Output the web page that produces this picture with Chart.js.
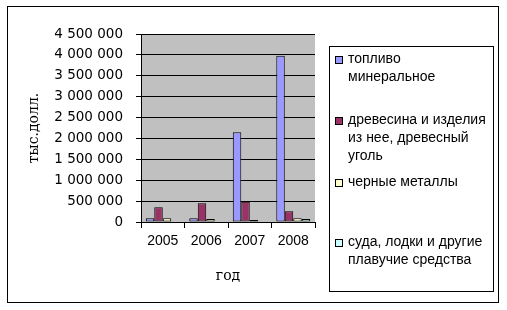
<!DOCTYPE html>
<html><head><meta charset="utf-8">
<script src="https://cdn.jsdelivr.net/npm/chart.js@4"></script>
<style>html,body{margin:0;padding:0;background:#fff}</style>
</head><body>
<canvas id="c" width="507" height="310"></canvas>
<script>
const years = ['2005', '2006', '2007', '2008'];
const seriesLines = [
  ['топливо', 'минеральное'],
  ['древесина и изделия', 'из нее, древесный', 'уголь'],
  ['черные металлы'],
  ['суда, лодки и другие', 'плавучие средства']
];
const fuel = [90000, 90000, 2150000, 3980000];
const wood = [355000, 450000, 485000, 260000];
const ferrous = [90000, 70000, 45000, 90000];
const vessels = [0, 0, 0, 70000];
const seriesColors = ['#9999FF', '#993366', '#FFFFCC', '#CCFFFF'];
const yMin = 0, yMax = 4500000, yStep = 500000;
const yTitle = 'тыс.долл.';
const xTitle = 'год';

const values = [fuel, wood, ferrous, vessels];
const fmt = v => String(v).replace(/\B(?=(\d{3})+(?!\d))/g, ' ');

const bgPlugin = {
  id: 'bg',
  beforeDraw(chart) {
    const {ctx, chartArea: a} = chart;
    ctx.save();
    ctx.fillStyle = '#C0C0C0';
    ctx.fillRect(a.left, a.top, a.right - a.left, a.bottom - a.top);
    ctx.restore();
  }
};

const legendStarts = [59, 120, 182, 242];
const framePlugin = {
  id: 'frame',
  afterDraw(chart) {
    const ctx = chart.ctx;
    ctx.save();
    ctx.strokeStyle = '#000';
    ctx.lineWidth = 1;
    ctx.strokeRect(7.5, 6.5, 491, 296);
    ctx.strokeRect(329.5, 46.5, 164, 245);
    ctx.font = '14px "Liberation Sans", Arial, sans-serif';
    ctx.textBaseline = 'middle';
    ctx.fillStyle = '#000';
    chart.data.datasets.forEach((ds, i) => {
      const y0 = legendStarts[i];
      ctx.fillStyle = ds.backgroundColor;
      ctx.fillRect(335, y0 - 3, 7, 7);
      ctx.strokeStyle = '#000';
      ctx.strokeRect(335.5, y0 - 2.5, 7, 7);
      ctx.fillStyle = '#000';
      seriesLines[i].forEach((line, j) => {
        ctx.fillText(line, 348, y0 + j * 18);
      });
    });
    ctx.restore();
  }
};

new Chart(document.getElementById('c'), {
  type: 'bar',
  data: {
    labels: years,
    datasets: values.map((v, i) => ({
      label: seriesLines[i].join(' '),
      data: v,
      backgroundColor: seriesColors[i],
      borderColor: '#000',
      borderWidth: 1,
      borderSkipped: false,
      categoryPercentage: 0.78,
      barPercentage: 1
    }))
  },
  options: {
    responsive: false,
    animation: false,
    devicePixelRatio: 1,
    layout: {padding: {top: 34, right: 192, bottom: 0, left: 0}},
    plugins: {legend: {display: false}, tooltip: {enabled: false}},
    scales: {
      x: {
        grid: {offset: true, drawOnChartArea: false, drawTicks: true, tickLength: 6, color: '#000'},
        border: {display: true, color: '#000', width: 1},
        ticks: {color: '#000', font: {family: '"Liberation Sans", Arial, sans-serif', size: 14}, padding: 5, maxRotation: 0},
        title: {display: true, text: xTitle, color: '#000', font: {family: '"DejaVu Serif", serif', size: 14}, padding: {top: 0, bottom: 25}},
        afterFit(s) { s.height = 88; }
      },
      y: {
        min: yMin, max: yMax,
        ticks: {stepSize: yStep, color: '#000', font: {family: '"DejaVu Sans", sans-serif', size: 13.5}, padding: 13, callback: v => fmt(v)},
        grid: {color: '#000', drawTicks: true, tickLength: 5, lineWidth: 1},
        border: {display: true, color: '#000', width: 1},
        title: {display: true, text: yTitle, color: '#000', font: {family: '"DejaVu Serif", serif', size: 14}, padding: {top: 26, bottom: 0}},
        afterFit(s) { s.width = 141; }
      }
    }
  },
  plugins: [bgPlugin, framePlugin]
});
</script>
</body></html>
